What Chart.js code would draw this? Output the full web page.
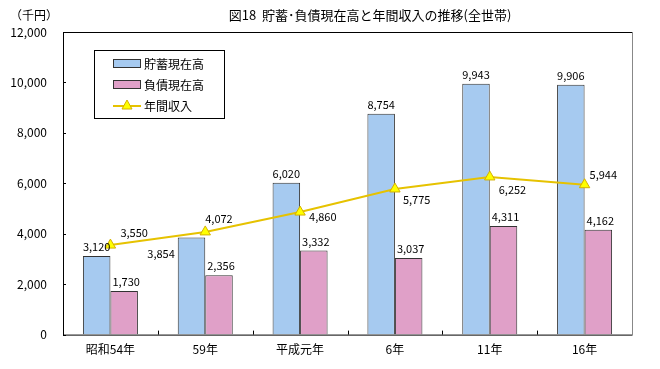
<!DOCTYPE html>
<html>
<head>
<meta charset="utf-8">
<script src="https://cdn.jsdelivr.net/npm/chart.js@4"></script>
<style>
  html, body { margin: 0; padding: 0; background: #fff; }
  #wrap { width: 660px; height: 369px; }
</style>
</head>
<body>
<div id="wrap"><canvas id="barChart" width="660" height="369"></canvas></div>
<script>
var years = ["昭和54年", "59年", "平成元年", "6年", "11年", "16年"];
var savings = [3120, 3854, 6020, 8754, 9943, 9906];
var debts = [1730, 2356, 3332, 3037, 4311, 4162];
var income = [3550, 4072, 4860, 5775, 6252, 5944];

var jpFont = '"Noto Sans CJK JP", "Noto Sans", sans-serif';

// label offsets for the income line (dx, dy from the point)
var incomeLabelPos = [[10, -12], [0, -13], [9, 5], [8, 11], [9, 13], [5, -10]];

function fmt(v) { return v.toLocaleString('en-US'); }

var decorPlugin = {
    id: 'decor',
    afterDraw: function (chart) {
        var ctx = chart.ctx;
        var a = chart.chartArea;
        var xs = chart.scales.x, ys = chart.scales.y;
        ctx.save();

        // frame
        ctx.lineWidth = 1;
        ctx.strokeStyle = '#000';
        ctx.beginPath();
        ctx.moveTo(a.left + 0.5, a.bottom + 0.5);
        ctx.lineTo(a.left + 0.5, a.top + 0.5);
        ctx.lineTo(a.right + 0.5, a.top + 0.5);
        ctx.moveTo(a.left + 0.5, a.bottom + 0.5);
        ctx.lineTo(a.right + 0.5, a.bottom + 0.5);
        ctx.stroke();
        ctx.strokeStyle = '#888';
        ctx.beginPath();
        ctx.moveTo(a.right + 0.5, a.top + 0.5);
        ctx.lineTo(a.right + 0.5, a.bottom + 0.5);
        ctx.stroke();

        // small inner tick marks
        ctx.strokeStyle = '#000';
        ctx.beginPath();
        for (var i = 1; i < years.length; i++) {
            var tx = Math.round(xs.getPixelForValue(i - 0.5)) + 0.5;
            ctx.moveTo(tx, a.bottom);
            ctx.lineTo(tx, a.bottom - 4);
        }
        ys.ticks.forEach(function (t) {
            var ty = Math.round(ys.getPixelForValue(t.value)) + 0.5;
            ctx.moveTo(a.left, ty);
            ctx.lineTo(a.left + 3, ty);
        });
        ctx.stroke();

        // unit and title
        ctx.fillStyle = '#000';
        ctx.font = '12px ' + jpFont;
        ctx.textBaseline = 'middle';
        ctx.textAlign = 'left';
        ctx.fillText('（千円）', 10, 15);
        ctx.font = '13px ' + jpFont;
        ctx.textAlign = 'center';
        ctx.fillText('図18  貯蓄･負債現在高と年間収入の推移(全世帯)', 370, 15);

        // value labels
        ctx.font = '11px ' + jpFont;
        var m0 = chart.getDatasetMeta(0), m1 = chart.getDatasetMeta(1), m2 = chart.getDatasetMeta(2);
        m0.data.forEach(function (bar, i) {
            if (i === 1) {
                ctx.textAlign = 'right';
                ctx.fillText(fmt(savings[i]), bar.x - bar.width / 2 - 3, bar.y + 16);
            } else {
                ctx.textAlign = 'center';
                ctx.fillText(fmt(savings[i]), bar.x, bar.y - 9);
            }
        });
        m1.data.forEach(function (bar, i) {
            ctx.textAlign = 'center';
            ctx.fillText(fmt(debts[i]), bar.x + 2, bar.y - 9);
        });
        m2.data.forEach(function (pt, i) {
            ctx.textAlign = 'left';
            var p = incomeLabelPos[i];
            ctx.fillText(fmt(income[i]), pt.x + p[0], pt.y + p[1]);
        });

        // legend box
        var lx = 94, ly = 50, lw = 130, lh = 68;
        ctx.fillStyle = '#fff';
        ctx.fillRect(lx, ly, lw, lh);
        ctx.strokeStyle = '#000';
        ctx.strokeRect(lx + 0.5, ly + 0.5, lw, lh);
        var rows = [
            { label: '貯蓄現在高', type: 'box', color: '#a6caf0' },
            { label: '負債現在高', type: 'box', color: '#e0a0c8' },
            { label: '年間収入', type: 'line' }
        ];
        ctx.font = '12px ' + jpFont;
        ctx.textAlign = 'left';
        rows.forEach(function (r, k) {
            var cy = ly + 13 + k * 21;
            if (r.type === 'box') {
                ctx.fillStyle = r.color;
                ctx.fillRect(lx + 19, cy - 4, 27, 8);
                ctx.strokeStyle = '#333';
                ctx.strokeRect(lx + 19.5, cy - 3.5, 27, 8);
            } else {
                ctx.strokeStyle = '#e6c200';
                ctx.lineWidth = 2;
                ctx.beginPath();
                ctx.moveTo(lx + 19, cy + 1);
                ctx.lineTo(lx + 47, cy + 1);
                ctx.stroke();
                ctx.lineWidth = 1;
                ctx.fillStyle = '#ffff00';
                ctx.strokeStyle = '#d4b000';
                ctx.beginPath();
                ctx.moveTo(lx + 33, cy - 5);
                ctx.lineTo(lx + 38, cy + 4);
                ctx.lineTo(lx + 28, cy + 4);
                ctx.closePath();
                ctx.fill();
                ctx.stroke();
            }
            ctx.fillStyle = '#000';
            ctx.fillText(r.label, lx + 50, cy + 1);
        });
        ctx.restore();
    }
};

var ctxB = document.getElementById("barChart").getContext('2d');

var myBarChart = new Chart(ctxB, {
    type: 'bar',
    data: {
        labels: years,
        datasets: [
            {
                label: "貯蓄現在高",
                data: savings,
                backgroundColor: '#a6caf0',
                borderColor: '#333',
                borderWidth: 1,
                categoryPercentage: 0.58,
                barPercentage: 1.0,
                order: 2
            },
            {
                label: "負債現在高",
                data: debts,
                backgroundColor: '#e0a0c8',
                borderColor: '#333',
                borderWidth: 1,
                categoryPercentage: 0.58,
                barPercentage: 1.0,
                order: 2
            },
            {
                type: 'line',
                label: "年間収入",
                data: income,
                borderColor: '#e6c200',
                borderWidth: 2,
                pointStyle: 'triangle',
                pointRadius: 6,
                pointBackgroundColor: '#ffff00',
                pointBorderColor: '#d4b000',
                pointBorderWidth: 1,
                tension: 0,
                order: 1
            }
        ]
    },
    options: {
        responsive: false,
        animation: false,
        layout: { padding: { top: 32, right: 28, bottom: 12, left: 0 } },
        plugins: {
            legend: { display: false },
            tooltip: { enabled: false }
        },
        scales: {
            x: {
                grid: { display: false },
                border: { display: false },
                ticks: { color: '#000', font: { family: jpFont, size: 12 }, padding: 0 }
            },
            y: {
                min: 0,
                max: 12000,
                grid: { display: false },
                border: { display: false },
                afterFit: function (s) { s.width = 63; },
                ticks: {
                    stepSize: 2000,
                    color: '#000',
                    padding: 8,
                    font: { family: jpFont, size: 12 },
                    callback: function (v) { return v.toLocaleString('en-US'); }
                }
            }
        }
    },
    plugins: [decorPlugin]
});
</script>
</body>
</html>
